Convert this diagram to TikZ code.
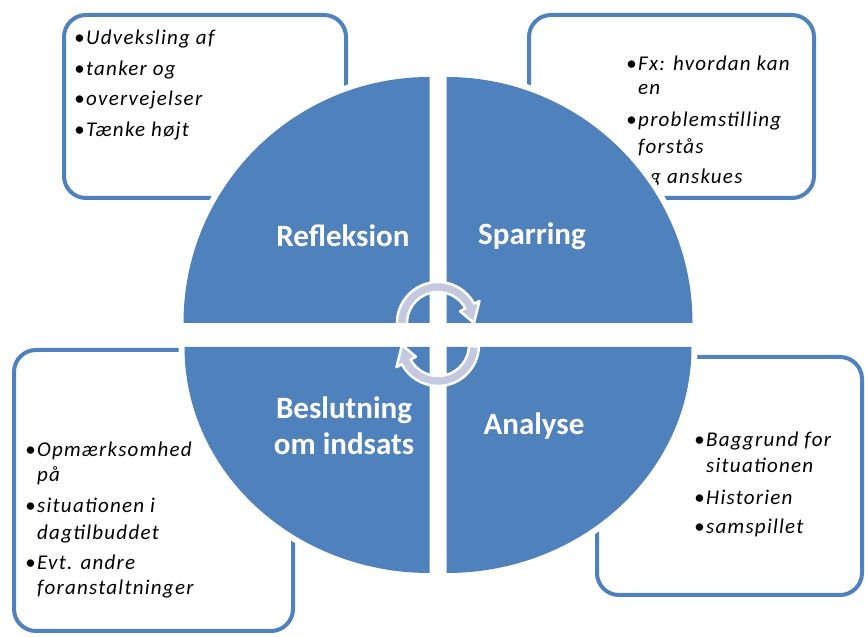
\documentclass[tikz,border=0pt]{standalone}
\usepackage{fontspec}
\setmainfont{Carlito}
\newfontfamily\itemfont[LetterSpace=6]{Carlito}
\definecolor{qblue}{HTML}{4F81BD}
\definecolor{arrfill}{HTML}{C5C9E0}
\newcommand{\bul}{\llap{\textbullet\kern1.5pt}}
\tikzset{
  infobox/.style={draw=qblue, line width=4pt, rounded corners=22pt, fill=white},
  quadw/.style={draw=white, fill=white, line width=12pt, line join=round},
  quadb/.style={fill=qblue},
  itemtext/.style={anchor=base west, inner sep=0pt, font=\itemfont\fontsize{21}{24}\selectfont\itshape},
  qlabel/.style={text=white, font=\fontsize{31}{34}\selectfont\bfseries, inner sep=0pt, align=center},
  cyc/.style={fill=arrfill, draw=white, line width=2.5pt, line join=round}
}
\begin{document}
\begin{tikzpicture}[x=1pt,y=1pt]
\useasboundingbox (0,0) rectangle (865,637);
\fill[white] (0,0) rectangle (865,637);
% boxes
\draw[infobox] (64,439) rectangle (346,622);
\draw[infobox] (529,439) rectangle (814,622);
\draw[infobox] (14,6) rectangle (293,287);
\draw[infobox] (597,42) rectangle (862,280);
% box texts
\node[itemtext] (tl1) at (86,592) {\bul Udveksling af};
\node[itemtext] (tl2) at (86,561) {\bul tanker og};
\node[itemtext] (tl3) at (86,531) {\bul overvejelser};
\node[itemtext] (tl4) at (86,500) {\bul Tænke højt};
\node[itemtext] (tr1) at (638,566) {\bul Fx: hvordan kan};
\node[itemtext] (tr2) at (638,542) {en};
\node[itemtext] (tr3) at (638,510) {\bul problemstilling};
\node[itemtext] (tr4) at (638,483) {forstås};
\node[itemtext] (tr5) at (638,453) {\bul og anskues};
\node[itemtext] (bl1) at (37,180) {\bul Opmærksomhed};
\node[itemtext] (bl2) at (37,155) {på};
\node[itemtext] (bl3) at (37,124) {\bul situationen i};
\node[itemtext] (bl4) at (37,97) {dagtilbuddet};
\node[itemtext] (bl5) at (37,67) {\bul Evt. andre};
\node[itemtext] (bl6) at (37,42) {foranstaltninger};
\node[itemtext] (br1) at (706,190) {\bul Baggrund for};
\node[itemtext] (br2) at (706,164) {situationen};
\node[itemtext] (br3) at (706,132) {\bul Historien};
\node[itemtext] (br4) at (706,103) {\bul samspillet};
% quadrant halos
\path[quadw] (429.5,314) -- (183.5,314) arc[start angle=180, end angle=90, radius=246pt] -- cycle;
\path[quadw] (446.5,314) -- (446.5,560) arc[start angle=90, end angle=0, radius=246pt] -- cycle;
\path[quadw] (429.5,290) -- (184.5,290) arc[start angle=180, end angle=270, x radius=245pt, y radius=226pt] -- cycle;
\path[quadw] (446.5,290) -- (691.5,290) arc[start angle=0, end angle=-90, x radius=245pt, y radius=226pt] -- cycle;
% quadrants
\path[quadb] (429.5,314) -- (183.5,314) arc[start angle=180, end angle=90, radius=246pt] -- cycle;
\path[quadb] (446.5,314) -- (446.5,560) arc[start angle=90, end angle=0, radius=246pt] -- cycle;
\path[quadb] (429.5,290) -- (184.5,290) arc[start angle=180, end angle=270, x radius=245pt, y radius=226pt] -- cycle;
\path[quadb] (446.5,290) -- (691.5,290) arc[start angle=0, end angle=-90, x radius=245pt, y radius=226pt] -- cycle;
% labels
\node[qlabel] (refl) at (343,401) {Refleksion};
\node[qlabel] (spar) at (532,401) {Sparring};
\node[qlabel] (besl) at (344,227) {Beslutning};
\node[qlabel] (omin) at (344,193) {om indsats};
\node[qlabel] (anal) at (534,211) {Analyse};
% cycle arrows
\coordinate (ct) at (438,314);
\coordinate (cb) at (438,292);
\path[cyc] ([shift={(182:41pt)}]ct) arc[start angle=182, end angle=28, radius=41pt]
  -- ([shift={(28:47pt)}]ct) -- ([shift={(0:36pt)}]ct) -- ([shift={(28:25pt)}]ct)
  -- ([shift={(28:31pt)}]ct) arc[start angle=28, end angle=182, radius=31pt] -- cycle;
\path[cyc] ([shift={(-2:41pt)}]cb) arc[start angle=-2, end angle=-152, radius=41pt]
  -- ([shift={(-152:47pt)}]cb) -- ([shift={(-180:36pt)}]cb) -- ([shift={(-152:25pt)}]cb)
  -- ([shift={(-152:31pt)}]cb) arc[start angle=-152, end angle=-2, radius=31pt] -- cycle;
\end{tikzpicture}
\end{document}
